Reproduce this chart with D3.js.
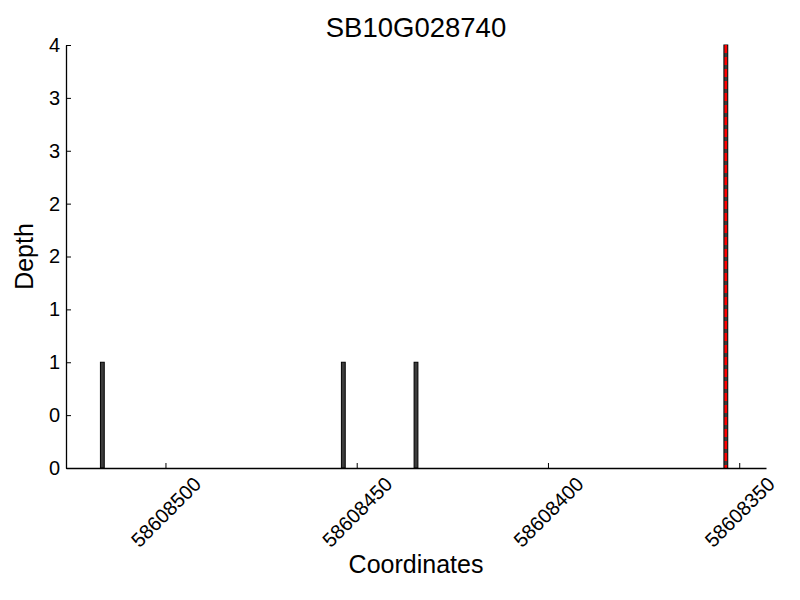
<!DOCTYPE html>
<html>
<head>
<meta charset="utf-8">
<script src="https://cdn.jsdelivr.net/npm/d3@7"></script>
<style>
  body { margin: 0; background: #fff; }
  text { font-family: "Liberation Sans", Arial, sans-serif; fill: #000; }
</style>
</head>
<body>
<div id="chart"></div>
<script>
// depth per position (reads off the picture)
var positions = [58608516, 58608453, 58608434, 58608353];
var depths = [1, 1, 1, 4];
// marked site (red dashed line)
var markers = [58608353];
var xTicks = [58608500, 58608450, 58608400, 58608350];
var yTicks = [0, 0.5, 1, 1.5, 2, 2.5, 3, 3.5, 4];
var yTickLabels = ["0", "0", "1", "1", "2", "2", "3", "3", "4"];
var xDomain = [58608526, 58608343];
var title = "SB10G028740";

var width = 800, height = 600;
var margin = {top: 45, right: 34, bottom: 132, left: 66};

var svg = d3.select("#chart").append("svg")
    .attr("width", width)
    .attr("height", height);

var x = d3.scaleLinear()
    .domain(xDomain)
    .range([margin.left, width - margin.right]);

var y = d3.scaleLinear()
    .domain([0, 4])
    .range([height - margin.bottom, margin.top]);

var data = positions.map(function(p, i) { return {pos: p, depth: depths[i]}; });

// bars, one base per bin
svg.append("g")
    .selectAll("rect")
    .data(data)
    .enter().append("rect")
    .attr("x", function(d) { return x(d.pos + 1); })
    .attr("width", function(d) { return x(d.pos) - x(d.pos + 1); })
    .attr("y", function(d) { return y(d.depth); })
    .attr("height", function(d) { return y(0) - y(d.depth); })
    .attr("fill", "#3c3c3c")
    .attr("stroke", "#000")
    .attr("stroke-width", 1);

// red dashed marker line
svg.append("g")
    .selectAll("line")
    .data(markers)
    .enter().append("line")
    .attr("x1", function(d) { return x(d + 0.5); })
    .attr("x2", function(d) { return x(d + 0.5); })
    .attr("y1", y(4))
    .attr("y2", y(0))
    .attr("stroke", "#ff0000")
    .attr("stroke-width", 2.5)
    .attr("stroke-dasharray", "8,4");

// X axis (ticks pointing inward)
var xAxis = svg.append("g")
    .attr("transform", "translate(0," + y(0) + ")")
    .call(d3.axisBottom(x).tickValues(xTicks).tickSizeInner(-5).tickSizeOuter(0).tickFormat(d3.format("d")));
xAxis.select(".domain").attr("stroke-width", 1.3);
xAxis.selectAll("text")
    .attr("font-size", 20)
    .attr("text-anchor", "middle")
    .attr("dominant-baseline", "central")
    .attr("y", 0)
    .attr("dy", null)
    .attr("transform", "translate(0,44) rotate(-45)");

// Y axis
var yAxis = svg.append("g")
    .attr("transform", "translate(" + margin.left + ",0)")
    .call(d3.axisLeft(y).tickValues(yTicks).tickSizeInner(-5).tickSizeOuter(0)
        .tickFormat(function(d, i) { return yTickLabels[i]; }));
yAxis.select(".domain").attr("stroke-width", 1.3);
yAxis.selectAll("text")
    .attr("font-size", 20)
    .attr("x", -6);

// title
svg.append("text")
    .attr("x", (margin.left + width - margin.right) / 2)
    .attr("y", 37)
    .attr("text-anchor", "middle")
    .attr("font-size", 27.5)
    .text(title);

// axis titles
svg.append("text")
    .attr("x", (margin.left + width - margin.right) / 2)
    .attr("y", 573)
    .attr("text-anchor", "middle")
    .attr("font-size", 25)
    .text("Coordinates");

svg.append("text")
    .attr("transform", "translate(33," + (margin.top + height - margin.bottom) / 2 + ") rotate(-90)")
    .attr("text-anchor", "middle")
    .attr("font-size", 25)
    .text("Depth");
</script>
</body>
</html>
